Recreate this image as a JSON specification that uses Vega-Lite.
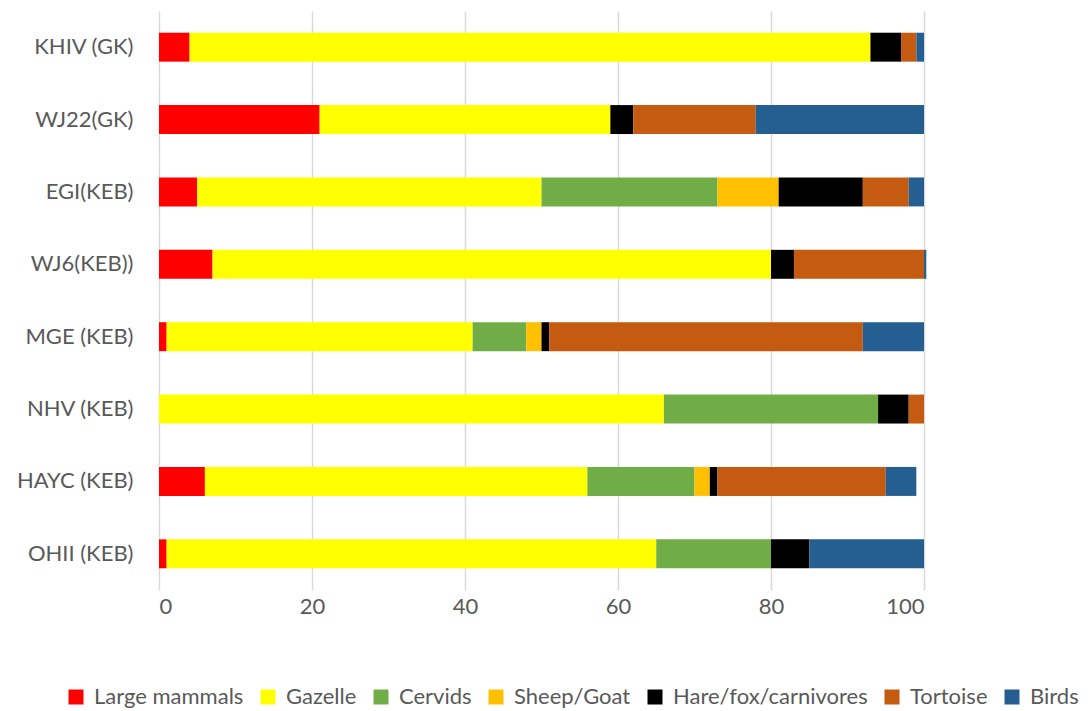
{
  "$schema": "https://vega.github.io/schema/vega-lite/v6.json",
  "width": 765,
  "height": 579,
  "autosize": "none",
  "padding": {"left": 159, "top": 11, "right": 164, "bottom": 121},
  "background": "white",
  "config": {
    "view": {"stroke": null},
    "font": "Lato",
    "axis": {"labelFont": "Lato", "labelColor": "#595959", "labelFontSize": 22, "domain": false, "ticks": false, "title": null},
    "legend": {"labelFont": "Lato", "labelColor": "#595959", "labelFontSize": 22}
  },
  "data": {
    "values": [
      {"site": "KHIV (GK)", "taxon": "Large mammals", "pct": 4},
      {"site": "KHIV (GK)", "taxon": "Gazelle", "pct": 89},
      {"site": "KHIV (GK)", "taxon": "Hare/fox/carnivores", "pct": 4},
      {"site": "KHIV (GK)", "taxon": "Tortoise", "pct": 2},
      {"site": "KHIV (GK)", "taxon": "Birds", "pct": 1},
      {"site": "WJ22(GK)", "taxon": "Large mammals", "pct": 21},
      {"site": "WJ22(GK)", "taxon": "Gazelle", "pct": 38},
      {"site": "WJ22(GK)", "taxon": "Hare/fox/carnivores", "pct": 3},
      {"site": "WJ22(GK)", "taxon": "Tortoise", "pct": 16},
      {"site": "WJ22(GK)", "taxon": "Birds", "pct": 22},
      {"site": "EGI(KEB)", "taxon": "Large mammals", "pct": 5},
      {"site": "EGI(KEB)", "taxon": "Gazelle", "pct": 45},
      {"site": "EGI(KEB)", "taxon": "Cervids", "pct": 23},
      {"site": "EGI(KEB)", "taxon": "Sheep/Goat", "pct": 8},
      {"site": "EGI(KEB)", "taxon": "Hare/fox/carnivores", "pct": 11},
      {"site": "EGI(KEB)", "taxon": "Tortoise", "pct": 6},
      {"site": "EGI(KEB)", "taxon": "Birds", "pct": 2},
      {"site": "WJ6(KEB))", "taxon": "Large mammals", "pct": 7},
      {"site": "WJ6(KEB))", "taxon": "Gazelle", "pct": 73},
      {"site": "WJ6(KEB))", "taxon": "Hare/fox/carnivores", "pct": 3},
      {"site": "WJ6(KEB))", "taxon": "Tortoise", "pct": 17},
      {"site": "WJ6(KEB))", "taxon": "Birds", "pct": 0.3},
      {"site": "MGE (KEB)", "taxon": "Large mammals", "pct": 1},
      {"site": "MGE (KEB)", "taxon": "Gazelle", "pct": 40},
      {"site": "MGE (KEB)", "taxon": "Cervids", "pct": 7},
      {"site": "MGE (KEB)", "taxon": "Sheep/Goat", "pct": 2},
      {"site": "MGE (KEB)", "taxon": "Hare/fox/carnivores", "pct": 1},
      {"site": "MGE (KEB)", "taxon": "Tortoise", "pct": 41},
      {"site": "MGE (KEB)", "taxon": "Birds", "pct": 8},
      {"site": "NHV (KEB)", "taxon": "Gazelle", "pct": 66},
      {"site": "NHV (KEB)", "taxon": "Cervids", "pct": 28},
      {"site": "NHV (KEB)", "taxon": "Hare/fox/carnivores", "pct": 4},
      {"site": "NHV (KEB)", "taxon": "Tortoise", "pct": 2},
      {"site": "HAYC (KEB)", "taxon": "Large mammals", "pct": 6},
      {"site": "HAYC (KEB)", "taxon": "Gazelle", "pct": 50},
      {"site": "HAYC (KEB)", "taxon": "Cervids", "pct": 14},
      {"site": "HAYC (KEB)", "taxon": "Sheep/Goat", "pct": 2},
      {"site": "HAYC (KEB)", "taxon": "Hare/fox/carnivores", "pct": 1},
      {"site": "HAYC (KEB)", "taxon": "Tortoise", "pct": 22},
      {"site": "HAYC (KEB)", "taxon": "Birds", "pct": 4},
      {"site": "OHII (KEB)", "taxon": "Large mammals", "pct": 1},
      {"site": "OHII (KEB)", "taxon": "Gazelle", "pct": 64},
      {"site": "OHII (KEB)", "taxon": "Cervids", "pct": 15},
      {"site": "OHII (KEB)", "taxon": "Hare/fox/carnivores", "pct": 5},
      {"site": "OHII (KEB)", "taxon": "Birds", "pct": 15}
    ]
  },
  "transform": [
    {"calculate": "indexof(['Large mammals','Gazelle','Cervids','Sheep/Goat','Hare/fox/carnivores','Tortoise','Birds'], datum.taxon)", "as": "stackOrder"}
  ],
  "mark": {"type": "bar"},
  "encoding": {
    "y": {
      "field": "site",
      "type": "nominal",
      "sort": null,
      "scale": {"paddingInner": 0.6, "paddingOuter": 0.3},
      "axis": {"grid": false, "labelPadding": 26}
    },
    "x": {
      "field": "pct",
      "type": "quantitative",
      "stack": "zero",
      "scale": {"domain": [0, 100], "nice": false},
      "axis": {"values": [0, 20, 40, 60, 80, 100], "grid": true, "gridColor": "#d9d9d9", "gridWidth": 1.5, "labelPadding": 6}
    },
    "color": {
      "field": "taxon",
      "type": "nominal",
      "scale": {
        "domain": ["Large mammals", "Gazelle", "Cervids", "Sheep/Goat", "Hare/fox/carnivores", "Tortoise", "Birds"],
        "range": ["#ff0000", "#ffff00", "#70ad47", "#ffc000", "#000000", "#c55a11", "#255e91"]
      },
      "legend": {
        "title": null,
        "orient": "none",
        "direction": "horizontal",
        "legendX": -94,
        "legendY": 675,
        "symbolType": "square",
        "symbolSize": 225,
        "symbolStrokeWidth": 0,
        "labelOffset": 7,
        "columnPadding": 13,
        "labelLimit": 400
      }
    },
    "order": {"field": "stackOrder", "type": "quantitative", "sort": "ascending"}
  }
}
